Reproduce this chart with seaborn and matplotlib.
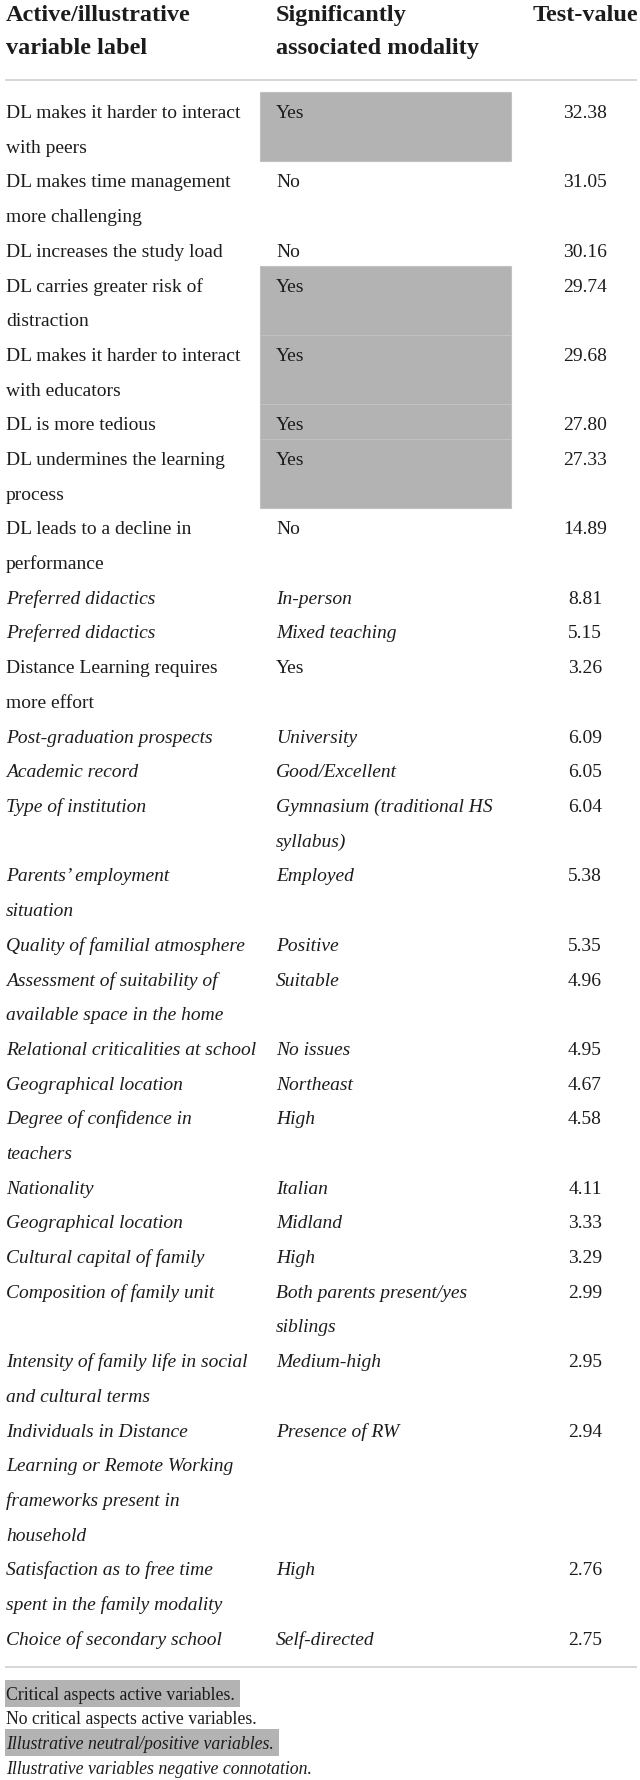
import numpy as np
import matplotlib
matplotlib.use("Agg")
import matplotlib.pyplot as plt
import seaborn as sns

# table content
headers = ["Active/illustrative\nvariable label", "Significantly\nassociated modality", "Test-value"]

labels = [
    "DL makes it harder to interact\nwith peers",
    "DL makes time management\nmore challenging",
    "DL increases the study load",
    "DL carries greater risk of\ndistraction",
    "DL makes it harder to interact\nwith educators",
    "DL is more tedious",
    "DL undermines the learning\nprocess",
    "DL leads to a decline in\nperformance",
    "Preferred didactics",
    "Preferred didactics",
    "Distance Learning requires\nmore effort",
    "Post-graduation prospects",
    "Academic record",
    "Type of institution",
    "Parents\u2019 employment\nsituation",
    "Quality of familial atmosphere",
    "Assessment of suitability of\navailable space in the home",
    "Relational criticalities at school",
    "Geographical location",
    "Degree of confidence in\nteachers",
    "Nationality",
    "Geographical location",
    "Cultural capital of family",
    "Composition of family unit",
    "Intensity of family life in social\nand cultural terms",
    "Individuals in Distance\nLearning or Remote Working\nframeworks present in\nhousehold",
    "Satisfaction as to free time\nspent in the family modality",
    "Choice of secondary school",
]

modalities = [
    "Yes", "No", "No", "Yes", "Yes", "Yes", "Yes", "No",
    "In-person", "Mixed teaching", "Yes",
    "University", "Good/Excellent", "Gymnasium (traditional HS\nsyllabus)",
    "Employed", "Positive", "Suitable", "No issues", "Northeast", "High",
    "Italian", "Midland", "High", "Both parents present/yes\nsiblings",
    "Medium-high", "Presence of RW", "High", "Self-directed",
]

test_values = [32.38, 31.05, 30.16, 29.74, 29.68, 27.80, 27.33, 14.89,
               8.81, 5.15, 3.26, 6.09, 6.05, 6.04, 5.38, 5.35, 4.96, 4.95,
               4.67, 4.58, 4.11, 3.33, 3.29, 2.99, 2.95, 2.94, 2.76, 2.75]

shaded = [1, 0, 0, 1, 1, 1, 1, 0] + [0] * 20
italic = [0] * 8 + [1, 1, 0] + [1] * 17

legend_text = ["Critical aspects active variables.",
               "No critical aspects active variables.",
               "Illustrative neutral/positive variables.",
               "Illustrative variables negative connotation."]
legend_shaded = [1, 0, 1, 0]
legend_italic = [0, 0, 1, 1]

# layout (pixels)
W, H = 640, 1781
col_x = [6, 276, 585]
pitch = 34.7
body_top = 93
shade_left, shade_w = 260, 251
gray = "#b3b3b3"
ink = "#1c1c1c"

sns.set_theme(style="white")
plt.rcParams["font.family"] = ["Liberation Serif", "DejaVu Serif"]

fig = plt.figure(figsize=(W / 100, H / 100), dpi=100)
ax = fig.add_axes([0, 0, 1, 1])
ax.set_xlim(0, W)
ax.set_ylim(H, 0)
ax.axis("off")

# header
for j, h in enumerate(headers):
    for k, line in enumerate(h.split("\n")):
        ax.text(col_x[j], 21 + k * 33, line, fontsize=17.5, fontweight="bold",
                ha="center" if j == 2 else "left", va="baseline", color=ink)

ax.plot([5, 637], [81, 81], color="#cfcfcf", lw=1.2, solid_capstyle="butt")

# body rows
slot = 0
for lab, mod, val, sh, it in zip(labels, modalities, test_values, shaded, italic):
    lab_lines = lab.split("\n")
    mod_lines = mod.split("\n")
    n = max(len(lab_lines), len(mod_lines))
    top = body_top + slot * pitch
    if sh:
        ax.barh(top + n * pitch / 2, shade_w, left=shade_left, height=n * pitch,
                color=gray, edgecolor="#c2c2c2", linewidth=0.8, zorder=0)
    style = "italic" if it else "normal"
    for k, line in enumerate(lab_lines):
        ax.text(col_x[0], top + 25 + k * pitch, line, fontsize=14,
                fontstyle=style, va="baseline", color=ink)
    for k, line in enumerate(mod_lines):
        ax.text(col_x[1], top + 25 + k * pitch, line, fontsize=14,
                fontstyle=style, va="baseline", color=ink)
    ax.text(col_x[2], top + 25, f"{val:.2f}", fontsize=14, ha="center",
            va="baseline", color=ink)
    slot += n

bottom_line = body_top + slot * pitch + 13
ax.plot([5, 637], [bottom_line, bottom_line], color="#cfcfcf", lw=1.2,
        solid_capstyle="butt")

# legend / footnote
renderer = fig.canvas.get_renderer()
for i, (txt, sh, it) in enumerate(zip(legend_text, legend_shaded, legend_italic)):
    base = bottom_line + 32 + i * 24.8
    t = ax.text(6, base, txt, fontsize=12.8, va="baseline", color=ink,
                fontstyle="italic" if it else "normal", zorder=2)
    if sh:
        bb = t.get_window_extent(renderer)
        ax.barh(base - 5.5, bb.x1 + 5 - 5, left=5, height=27, color=gray,
                linewidth=0, zorder=1)

fig.savefig("out.png", dpi=100)
